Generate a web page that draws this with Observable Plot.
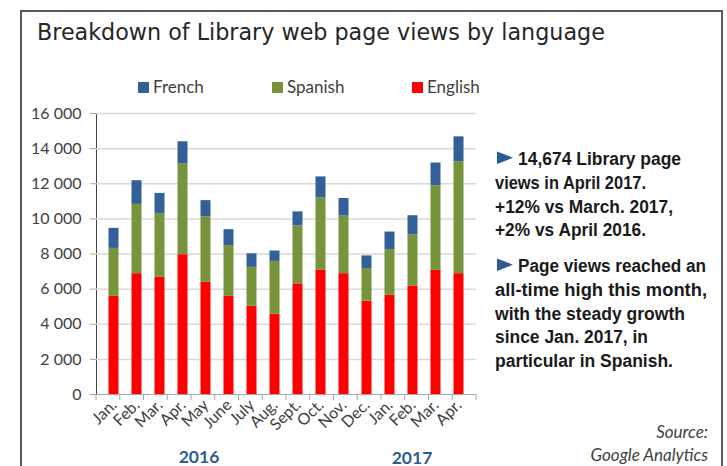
<!DOCTYPE html>
<html>
<head>
<meta charset="utf-8">
<script src="https://cdn.jsdelivr.net/npm/d3@7"></script>
<script src="https://cdn.jsdelivr.net/npm/@observablehq/plot@0.6"></script>
<style>
  html, body { margin: 0; padding: 0; background: #fff; }
  #wrap { position: relative; width: 727px; height: 466px; overflow: hidden; }
  #wrap > svg { position: absolute; left: 0; top: 0; }
</style>
</head>
<body>
<div id="wrap"></div>
<script>
// ---- data ----
const monthLabels = ["Jan.","Feb.","Mar.","Apr.","May","June","July","Aug.","Sept.","Oct.","Nov.","Dec.","Jan.","Feb.","Mar.","Apr."];
const monthYears = [2016,2016,2016,2016,2016,2016,2016,2016,2016,2016,2016,2016,2017,2017,2017,2017];
const english = [5590, 6880, 6670, 7960, 6390, 5590, 5020, 4570, 6300, 7070, 6880, 5310, 5650, 6180, 7070, 6880];
const spanish = [2730, 3945, 3640, 5180, 3720, 2885, 2220, 3010, 3300, 4120, 3280, 1860, 2600, 2920, 4820, 6370];
const french  = [1140, 1350, 1140, 1250,  930,  910,  770,  590,  800, 1200, 1000,  720, 1000, 1080, 1290, 1420];
const languages = ["English", "Spanish", "French"];      // stacking order, bottom to top
const legendOrder = ["French", "Spanish", "English"];
const colors = ["#FF0000", "#77933C", "#34609A"];
const yTicks = [0, 2000, 4000, 6000, 8000, 10000, 12000, 14000, 16000];
const yearLabels = ["2016", "2017"];
const titleText = "Breakdown of Library web page views by language";
const notes = [
  ["14,674 Library page", "views in April 2017.", "+12% vs March. 2017,", "+2% vs April 2016."],
  ["Page views reached an", "all-time high this month,", "with the steady growth", "since Jan. 2017, in", "particular in Spanish."]
];
const sourceLines = ["Source:", "Google Analytics"];

// ---- table ----
const keys = monthLabels.map((m, i) => `${monthYears[i]}-${i}`);
const series = {English: english, Spanish: spanish, French: french};
const rows = keys.flatMap((k, i) => languages.map(l => ({key: k, lang: l, value: series[l][i]})));
const fmt = d => d3.format(",")(d).replace(/,/g, " ");
const gray = "#A6A6A6";

const chart = Plot.plot({
  width: 727,
  height: 466,
  marginTop: 113,
  marginLeft: 96,
  marginRight: 251,
  marginBottom: 72,
  style: {fontFamily: "Lato, 'Open Sans', sans-serif", fontSize: "16px", color: "#404040", background: "transparent", overflow: "visible"},
  x: {domain: keys, padding: 0, tickFormat: k => monthLabels[keys.indexOf(k)], tickRotate: -45, tickSize: 0, tickPadding: 8, label: null},
  y: {domain: [0, 16000], ticks: yTicks, tickFormat: fmt, tickSize: 6, tickPadding: 9, label: null, line: true},
  color: {domain: languages, range: colors},
  marks: [
    Plot.ruleY(yTicks.slice(1), {stroke: "#D9D9D9", strokeWidth: 1.5}),
    Plot.barY(rows, {x: "key", y: "value", fill: "lang", order: languages, insetLeft: 6.5, insetRight: 6.5}),
    Plot.ruleY([0], {stroke: gray}),
    Plot.text([keys[4]], {x: d => d, text: () => yearLabels[0], frameAnchor: "bottom", dy: 68, dx: -7, fontSize: 17.5, fontWeight: "bold", fill: "#2F5B93", lineAnchor: "bottom"}),
    Plot.text([keys[12]], {x: d => d, text: () => yearLabels[1], frameAnchor: "bottom", dy: 69, dx: 22, fontSize: 17.5, fontWeight: "bold", fill: "#2F5B93", lineAnchor: "bottom"})
  ]
});
document.getElementById("wrap").appendChild(chart);

const svg = d3.select(chart);
svg.selectAll('[aria-label^="y-axis"] path, [aria-label^="y-axis"] line').attr("stroke", gray);

// category boundary ticks on the x axis (Excel style)
const xs = chart.scale("x"), ys = chart.scale("y");
const x0 = xs.range[0], x1 = xs.range[1], n = keys.length, step = (x1 - x0) / n;
const y0 = ys.range[0];
svg.append("g").attr("stroke", gray)
  .selectAll("line").data(d3.range(n + 1)).join("line")
  .attr("x1", i => x0 + i * step).attr("x2", i => x0 + i * step)
  .attr("y1", y0).attr("y2", y0 + 6);

// ---- overlay: frame, title, legend, notes, source ----
const ov = d3.select("#wrap").append("svg").attr("width", 727).attr("height", 466);
ov.append("rect").attr("x", 21).attr("y", 11).attr("width", 701).attr("height", 480)
  .attr("fill", "none").attr("stroke", "#595959").attr("stroke-width", 2);

function fit(sel, target) {
  const w = sel.node().getComputedTextLength();
  const fs = parseFloat(sel.attr("font-size"));
  sel.attr("font-size", fs * target / w);
}
const title = ov.append("text").attr("x", 37).attr("y", 40)
  .attr("font-family", "'DejaVu Sans', Verdana, sans-serif").attr("font-size", 19)
  .attr("fill", "#262626").text(titleText);
fit(title, 568);

const legendX = [138, 272, 412];
legendOrder.forEach((l, i) => {
  ov.append("rect").attr("x", legendX[i]).attr("y", 82).attr("width", 11).attr("height", 11)
    .attr("fill", colors[languages.indexOf(l)]);
  ov.append("text").attr("x", legendX[i] + 15).attr("y", 93)
    .attr("font-family", "Lato, 'Open Sans', sans-serif").attr("font-size", 17)
    .attr("fill", "#404040").text(l);
});

const noteFont = "'Liberation Sans', Arial, sans-serif";
const baseY = [165, 272];
const lineH = 23.8;
const noteWidths = [[163, 151, 178, 151], [188, 212, 190, 153, 178]];
notes.forEach((para, p) => {
  const by = baseY[p];
  ov.append("path").attr("d", `M497,${by - 13.5} L513,${by - 7.3} L497,${by - 1} Z`).attr("fill", "#2F5B93");
  para.forEach((line, j) => {
    ov.append("text").attr("x", j === 0 ? 518 : 495).attr("y", by + j * lineH)
      .attr("font-family", noteFont).attr("font-size", 17.5).attr("font-weight", "bold")
      .attr("textLength", noteWidths[p][j]).attr("lengthAdjust", "spacingAndGlyphs")
      .attr("fill", "#1a1a1a").text(line);
  });
});

sourceLines.forEach((s, i) => {
  ov.append("text").attr("x", 708).attr("y", 438 + i * 23).attr("text-anchor", "end")
    .attr("font-family", "Lato, 'Open Sans', sans-serif").attr("font-style", "italic").attr("font-size", 17)
    .attr("fill", "#404040").text(s);
});
</script>
</body>
</html>
